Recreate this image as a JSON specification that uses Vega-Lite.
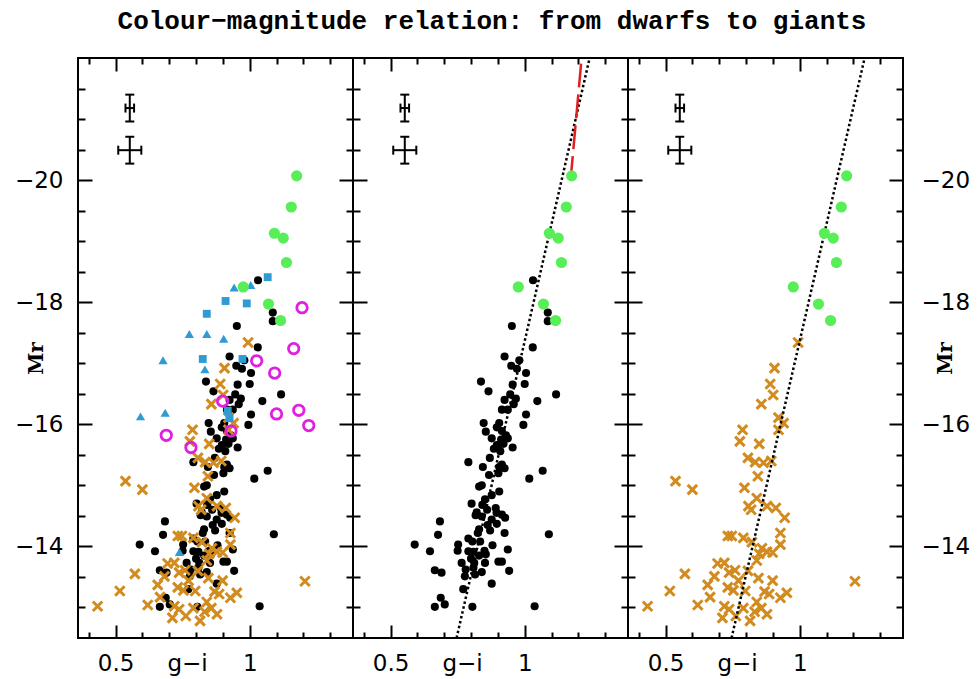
{
  "$schema": "https://vega.github.io/schema/vega-lite/v6.json",
  "background": "white",
  "padding": {"left": 13, "top": 8, "right": 0, "bottom": 0},
  "title": {"text": "Colour−magnitude relation: from dwarfs to giants", "font": "Liberation Mono", "fontSize": 26, "fontWeight": "bold", "color": "black", "anchor": "middle", "offset": 18},
  "spacing": 0,
  "bounds": "flush",
  "datasets": {
    "dwarf": [
      {"gi":1.031,"Mr":-18.36},{"gi":1.086,"Mr":-17.83},{"gi":1.086,"Mr":-17.69},{"gi":0.952,"Mr":-17.61},
      {"gi":1.030,"Mr":-17.26},{"gi":0.925,"Mr":-17.11},{"gi":0.980,"Mr":-17.05},{"gi":0.950,"Mr":-16.96},{"gi":0.971,"Mr":-16.91},{"gi":1.005,"Mr":-16.84},{"gi":0.837,"Mr":-16.70},{"gi":1.000,"Mr":-16.66},{"gi":0.955,"Mr":-16.65},{"gi":0.865,"Mr":-16.54},{"gi":1.117,"Mr":-16.49},{"gi":0.946,"Mr":-16.49},{"gi":0.967,"Mr":-16.42},{"gi":1.047,"Mr":-16.38},{"gi":0.959,"Mr":-16.33},{"gi":0.915,"Mr":-16.24},{"gi":0.937,"Mr":-16.24},{"gi":1.005,"Mr":-16.16},{"gi":0.847,"Mr":-16.02},{"gi":0.995,"Mr":-15.99},{"gi":0.896,"Mr":-15.95},{"gi":0.855,"Mr":-15.88},{"gi":0.915,"Mr":-15.89},{"gi":0.877,"Mr":-15.77},{"gi":0.912,"Mr":-15.75},{"gi":0.937,"Mr":-15.77},{"gi":0.896,"Mr":-15.66},{"gi":0.921,"Mr":-15.68},{"gi":0.955,"Mr":-15.62},{"gi":0.909,"Mr":-15.56},{"gi":0.790,"Mr":-15.38},{"gi":0.844,"Mr":-15.30},{"gi":0.915,"Mr":-15.34},{"gi":0.925,"Mr":-15.28},{"gi":0.902,"Mr":-15.20},{"gi":0.867,"Mr":-15.17},{"gi":1.067,"Mr":-15.24},{"gi":1.017,"Mr":-15.11},{"gi":0.840,"Mr":-15.00},{"gi":0.830,"Mr":-14.98},{"gi":0.877,"Mr":-14.84},{"gi":0.852,"Mr":-14.77},{"gi":0.802,"Mr":-14.70},{"gi":0.842,"Mr":-14.68},{"gi":0.892,"Mr":-14.63},{"gi":0.860,"Mr":-14.60},{"gi":0.684,"Mr":-14.41},{"gi":0.817,"Mr":-14.51},{"gi":0.840,"Mr":-14.49},{"gi":0.915,"Mr":-14.52},{"gi":0.927,"Mr":-14.47},{"gi":0.877,"Mr":-14.44},{"gi":0.896,"Mr":-14.37},{"gi":0.830,"Mr":-14.28},{"gi":0.871,"Mr":-14.26},{"gi":0.925,"Mr":-14.22},{"gi":1.090,"Mr":-14.20},{"gi":0.677,"Mr":-14.19},{"gi":0.825,"Mr":-14.22},{"gi":0.790,"Mr":-14.13},{"gi":0.805,"Mr":-14.08},{"gi":0.834,"Mr":-14.08},{"gi":0.590,"Mr":-14.03},{"gi":0.752,"Mr":-14.03},{"gi":0.880,"Mr":-14.02},{"gi":0.750,"Mr":-13.93},{"gi":0.790,"Mr":-13.92},{"gi":0.809,"Mr":-13.91},{"gi":0.850,"Mr":-13.93},{"gi":0.937,"Mr":-13.95},{"gi":0.647,"Mr":-13.92},{"gi":0.855,"Mr":-13.87},{"gi":0.765,"Mr":-13.73},{"gi":0.812,"Mr":-13.73},{"gi":0.852,"Mr":-13.73},{"gi":0.902,"Mr":-13.75},{"gi":0.915,"Mr":-13.75},{"gi":0.665,"Mr":-13.61},{"gi":0.690,"Mr":-13.57},{"gi":0.777,"Mr":-13.51},{"gi":0.815,"Mr":-13.54},{"gi":0.840,"Mr":-13.58},{"gi":0.942,"Mr":-13.60},{"gi":0.877,"Mr":-13.39},{"gi":0.771,"Mr":-13.30},{"gi":0.687,"Mr":-13.16},{"gi":0.702,"Mr":-13.05},{"gi":0.665,"Mr":-13.01},{"gi":0.805,"Mr":-13.01},{"gi":1.037,"Mr":-13.02},{"gi":0.809,"Mr":-13.65},{"gi":0.821,"Mr":-14.56},
      {"gi":0.905,"Mr":-16.02},{"gi":0.930,"Mr":-15.82},{"gi":0.885,"Mr":-15.60},{"gi":0.925,"Mr":-16.40},{"gi":0.905,"Mr":-14.90},{"gi":0.862,"Mr":-14.35},{"gi":0.800,"Mr":-13.80},{"gi":0.830,"Mr":-13.85},{"gi":0.895,"Mr":-14.55},{"gi":0.870,"Mr":-15.45},{"gi":0.780,"Mr":-13.62},{"gi":0.905,"Mr":-15.30}
    ],
    "cross": [
      {"gi":0.994,"Mr":-17.34},{"gi":0.906,"Mr":-16.92},{"gi":0.890,"Mr":-16.66},{"gi":0.901,"Mr":-16.48},{"gi":0.857,"Mr":-16.33},{"gi":0.921,"Mr":-16.11},{"gi":0.940,"Mr":-16.02},{"gi":0.921,"Mr":-15.91},{"gi":0.787,"Mr":-15.91},{"gi":0.777,"Mr":-15.72},{"gi":0.849,"Mr":-15.68},{"gi":0.807,"Mr":-15.45},{"gi":0.834,"Mr":-15.38},{"gi":0.865,"Mr":-15.37},{"gi":0.894,"Mr":-15.40},{"gi":0.844,"Mr":-15.15},{"gi":0.600,"Mr":-14.93},{"gi":0.794,"Mr":-14.96},{"gi":0.840,"Mr":-14.79},{"gi":0.809,"Mr":-14.66},{"gi":0.819,"Mr":-14.60},{"gi":0.878,"Mr":-14.66},{"gi":0.911,"Mr":-14.63},{"gi":0.944,"Mr":-14.47},{"gi":0.928,"Mr":-14.22},{"gi":0.732,"Mr":-14.17},{"gi":0.747,"Mr":-14.17},{"gi":0.790,"Mr":-14.14},{"gi":0.822,"Mr":-14.07},{"gi":0.928,"Mr":-14.03},{"gi":0.859,"Mr":-13.97},{"gi":0.849,"Mr":-13.88},{"gi":0.878,"Mr":-13.91},{"gi":0.899,"Mr":-13.90},{"gi":0.840,"Mr":-13.77},{"gi":0.694,"Mr":-13.72},{"gi":0.719,"Mr":-13.73},{"gi":0.759,"Mr":-13.61},{"gi":0.807,"Mr":-13.60},{"gi":0.572,"Mr":-13.55},{"gi":0.682,"Mr":-13.51},{"gi":0.737,"Mr":-13.57},{"gi":0.772,"Mr":-13.44},{"gi":0.846,"Mr":-13.48},{"gi":0.899,"Mr":-13.44},{"gi":0.657,"Mr":-13.37},{"gi":0.732,"Mr":-13.33},{"gi":0.753,"Mr":-13.28},{"gi":0.797,"Mr":-13.27},{"gi":0.869,"Mr":-13.26},{"gi":0.886,"Mr":-13.22},{"gi":0.952,"Mr":-13.24},{"gi":0.666,"Mr":-13.17},{"gi":0.928,"Mr":-13.16},{"gi":0.840,"Mr":-13.09},{"gi":0.620,"Mr":-13.04},{"gi":0.719,"Mr":-13.02},{"gi":0.737,"Mr":-12.97},{"gi":0.790,"Mr":-12.99},{"gi":0.857,"Mr":-12.99},{"gi":0.832,"Mr":-12.93},{"gi":0.878,"Mr":-12.89},{"gi":0.712,"Mr":-12.83},{"gi":0.762,"Mr":-12.86},{"gi":0.815,"Mr":-12.78},{"gi":0.537,"Mr":-15.07},{"gi":0.516,"Mr":-13.27},{"gi":0.433,"Mr":-13.02},{"gi":1.206,"Mr":-13.43}
    ],
    "giant": [
      {"gi":1.175,"Mr":-20.07},{"gi":1.155,"Mr":-19.56},{"gi":1.092,"Mr":-19.13},{"gi":1.125,"Mr":-19.05},{"gi":1.137,"Mr":-18.65},{"gi":0.976,"Mr":-18.25},{"gi":1.070,"Mr":-17.97},{"gi":1.115,"Mr":-17.70}
    ],
    "tri": [
      {"gi":0.942,"Mr":-18.24},{"gi":1.004,"Mr":-18.28},{"gi":0.775,"Mr":-17.48},{"gi":0.840,"Mr":-17.48},{"gi":0.903,"Mr":-17.40},{"gi":0.677,"Mr":-17.05},{"gi":0.833,"Mr":-16.90},{"gi":0.593,"Mr":-16.13},{"gi":0.685,"Mr":-16.19},{"gi":0.738,"Mr":-13.91}
    ],
    "sq": [
      {"gi":1.067,"Mr":-18.41},{"gi":0.910,"Mr":-18.02},{"gi":0.989,"Mr":-17.98},{"gi":0.840,"Mr":-17.81},{"gi":0.825,"Mr":-17.07},{"gi":0.973,"Mr":-17.07},{"gi":0.918,"Mr":-16.22},{"gi":0.925,"Mr":-16.10}
    ],
    "ring": [
      {"gi":1.195,"Mr":-17.91},{"gi":1.164,"Mr":-17.24},{"gi":1.026,"Mr":-17.04},{"gi":1.093,"Mr":-16.84},{"gi":0.899,"Mr":-16.38},{"gi":1.100,"Mr":-16.17},{"gi":1.183,"Mr":-16.23},{"gi":1.220,"Mr":-15.98},{"gi":0.689,"Mr":-15.82},{"gi":0.781,"Mr":-15.62},{"gi":0.930,"Mr":-15.89}
    ],
    "ebv": [{"gi":0.553,"lo":-21.40,"hi":-20.96},{"gi":0.553,"lo":-20.71,"hi":-20.27}],
    "ebh": [{"Mr":-21.18,"lo":0.537,"hi":0.569},{"Mr":-20.49,"lo":0.510,"hi":0.596}],
    "capv": [{"gi":0.553,"Mr":-21.40},{"gi":0.553,"Mr":-20.96},{"gi":0.553,"Mr":-20.71},{"gi":0.553,"Mr":-20.27}],
    "caph": [{"gi":0.537,"Mr":-21.18},{"gi":0.569,"Mr":-21.18},{"gi":0.510,"Mr":-20.49},{"gi":0.596,"Mr":-20.49}],
    "fit": [{"gi":0.746,"Mr":-12.5},{"gi":1.242,"Mr":-22}],
    "red": [{"gi":1.171,"Mr":-20.0},{"gi":1.212,"Mr":-22}]
  },
  "hconcat": [
    {
      "width": 275, "height": 580,
      "resolve": {"axis": {"x": "independent", "y": "independent"}},
      "layer": [
        {"data": {"name": "dwarf"}, "mark": {"type": "point", "shape": "circle", "filled": true, "color": "black", "size": 66, "opacity": 1},
         "encoding": {
           "x": {"field": "gi", "type": "quantitative", "scale": {"domain": [0.36, 1.385], "nice": false, "zero": false}, "axis": {"orient": "bottom", "values": [0.5, 1], "format": "~g", "tickSize": -13, "labelPadding": 27, "title": "g−i", "titleX": 109, "titleY": 32, "titleFont": "DejaVu Sans", "titleFontSize": 23, "titleFontWeight": "normal", "titleAlign": "center", "titleBaseline": "alphabetic", "titleAngle": 0}},
           "y": {"field": "Mr", "type": "quantitative", "scale": {"domain": [-22, -12.5], "reverse": true, "nice": false, "zero": false}, "axis": {"orient": "left", "values": [-20, -18, -16, -14], "format": "d", "tickSize": -14, "labelPadding": 29, "title": "Mr", "titleX": -42, "titleY": 300, "titleAngle": -90, "titleAlign": "center", "titleBaseline": "middle"}}
         }},
        {"data": {"name": "cross"}, "mark": {"type": "point", "shape": "M-1,-1L1,1M-1,1L1,-1", "filled": false, "color": "#d18b1e", "size": 90, "strokeWidth": 3, "opacity": 1},
         "encoding": {
           "x": {"field": "gi", "type": "quantitative", "scale": {"domain": [0.36, 1.385], "nice": false, "zero": false}, "axis": {"orient": "bottom", "values": [0.4, 0.6, 0.7, 0.8, 0.9, 1.1, 1.2, 1.3], "tickSize": -6, "labels": false, "title": null}},
           "y": {"field": "Mr", "type": "quantitative", "scale": {"domain": [-22, -12.5], "reverse": true, "nice": false, "zero": false}, "axis": {"orient": "left", "values": [-21.5, -21, -20.5, -19.5, -19, -18.5, -17.5, -17, -16.5, -15.5, -15, -14.5, -13.5, -13], "tickSize": -7, "labels": false, "title": null}}
         }},
        {"data": {"name": "tri"}, "mark": {"type": "point", "shape": "triangle-up", "filled": true, "color": "#2f9bd3", "size": 85, "opacity": 1},
         "encoding": {
           "x": {"field": "gi", "type": "quantitative", "scale": {"domain": [0.36, 1.385], "nice": false, "zero": false}, "axis": {"orient": "top", "values": [0.5, 1], "tickSize": -13, "labels": false, "title": null}},
           "y": {"field": "Mr", "type": "quantitative", "scale": {"domain": [-22, -12.5], "reverse": true, "nice": false, "zero": false}, "axis": {"orient": "right", "values": [-20, -18, -16, -14], "tickSize": -14, "labels": false, "title": null}}
         }},
        {"data": {"name": "sq"}, "mark": {"type": "point", "shape": "square", "filled": true, "color": "#2f9bd3", "size": 62, "opacity": 1},
         "encoding": {
           "x": {"field": "gi", "type": "quantitative", "scale": {"domain": [0.36, 1.385], "nice": false, "zero": false}, "axis": {"orient": "top", "values": [0.4, 0.6, 0.7, 0.8, 0.9, 1.1, 1.2, 1.3], "tickSize": -6, "labels": false, "title": null}},
           "y": {"field": "Mr", "type": "quantitative", "scale": {"domain": [-22, -12.5], "reverse": true, "nice": false, "zero": false}, "axis": {"orient": "right", "values": [-21.5, -21, -20.5, -19.5, -19, -18.5, -17.5, -17, -16.5, -15.5, -15, -14.5, -13.5, -13], "tickSize": -7, "labels": false, "title": null}}
         }},
        {"data": {"name": "ring"}, "mark": {"type": "point", "shape": "circle", "filled": false, "color": "#e020e0", "size": 110, "strokeWidth": 2.8, "opacity": 1},
         "encoding": {
           "x": {"field": "gi", "type": "quantitative", "scale": {"domain": [0.36, 1.385], "nice": false, "zero": false}, "axis": null},
           "y": {"field": "Mr", "type": "quantitative", "scale": {"domain": [-22, -12.5], "reverse": true, "nice": false, "zero": false}, "axis": null}
         }},
        {"data": {"name": "giant"}, "mark": {"type": "point", "shape": "circle", "filled": true, "color": "#58ee58", "size": 125, "opacity": 1},
         "encoding": {
           "x": {"field": "gi", "type": "quantitative", "scale": {"domain": [0.36, 1.385], "nice": false, "zero": false}, "axis": null},
           "y": {"field": "Mr", "type": "quantitative", "scale": {"domain": [-22, -12.5], "reverse": true, "nice": false, "zero": false}, "axis": null}
         }},
        {"data": {"name": "ebv"}, "mark": {"type": "rule", "color": "black", "strokeWidth": 2},
         "encoding": {
           "x": {"field": "gi", "type": "quantitative", "scale": {"domain": [0.36, 1.385], "nice": false, "zero": false}, "axis": null},
           "y": {"field": "lo", "type": "quantitative", "scale": {"domain": [-22, -12.5], "reverse": true, "nice": false, "zero": false}, "axis": null},
           "y2": {"field": "hi"}
         }},
        {"data": {"name": "ebh"}, "mark": {"type": "rule", "color": "black", "strokeWidth": 2},
         "encoding": {
           "x": {"field": "lo", "type": "quantitative", "scale": {"domain": [0.36, 1.385], "nice": false, "zero": false}, "axis": null},
           "x2": {"field": "hi"},
           "y": {"field": "Mr", "type": "quantitative", "scale": {"domain": [-22, -12.5], "reverse": true, "nice": false, "zero": false}, "axis": null}
         }},
        {"data": {"name": "capv"}, "mark": {"type": "tick", "orient": "horizontal", "color": "black", "size": 9, "thickness": 2, "opacity": 1},
         "encoding": {
           "x": {"field": "gi", "type": "quantitative", "scale": {"domain": [0.36, 1.385], "nice": false, "zero": false}, "axis": null},
           "y": {"field": "Mr", "type": "quantitative", "scale": {"domain": [-22, -12.5], "reverse": true, "nice": false, "zero": false}, "axis": null}
         }},
        {"data": {"name": "caph"}, "mark": {"type": "tick", "orient": "vertical", "color": "black", "size": 9, "thickness": 2, "opacity": 1},
         "encoding": {
           "x": {"field": "gi", "type": "quantitative", "scale": {"domain": [0.36, 1.385], "nice": false, "zero": false}, "axis": null},
           "y": {"field": "Mr", "type": "quantitative", "scale": {"domain": [-22, -12.5], "reverse": true, "nice": false, "zero": false}, "axis": null}
         }}
      ]
    },
    {
      "width": 275, "height": 580,
      "resolve": {"axis": {"x": "independent", "y": "independent"}},
      "layer": [
        {"data": {"name": "fit"}, "mark": {"type": "line", "color": "black", "strokeWidth": 2.5, "strokeDash": [2.5, 2.5]},
         "encoding": {
           "x": {"field": "gi", "type": "quantitative", "scale": {"domain": [0.36, 1.385], "nice": false, "zero": false}, "axis": {"orient": "bottom", "values": [0.5, 1], "format": "~g", "tickSize": -13, "labelPadding": 27, "title": "g−i", "titleX": 109, "titleY": 32, "titleFont": "DejaVu Sans", "titleFontSize": 23, "titleFontWeight": "normal", "titleAlign": "center", "titleBaseline": "alphabetic", "titleAngle": 0}},
           "y": {"field": "Mr", "type": "quantitative", "scale": {"domain": [-22, -12.5], "reverse": true, "nice": false, "zero": false}, "axis": {"orient": "left", "values": [-20, -18, -16, -14], "tickSize": -14, "labels": false, "title": null}}
         }},
        {"data": {"name": "red"}, "mark": {"type": "line", "color": "#e02020", "strokeWidth": 2.5, "strokeDash": [24, 7]},
         "encoding": {
           "x": {"field": "gi", "type": "quantitative", "scale": {"domain": [0.36, 1.385], "nice": false, "zero": false}, "axis": {"orient": "bottom", "values": [0.4, 0.6, 0.7, 0.8, 0.9, 1.1, 1.2, 1.3], "tickSize": -6, "labels": false, "title": null}},
           "y": {"field": "Mr", "type": "quantitative", "scale": {"domain": [-22, -12.5], "reverse": true, "nice": false, "zero": false}, "axis": {"orient": "left", "values": [-21.5, -21, -20.5, -19.5, -19, -18.5, -17.5, -17, -16.5, -15.5, -15, -14.5, -13.5, -13], "tickSize": -7, "labels": false, "title": null}}
         }},
        {"data": {"name": "dwarf"}, "mark": {"type": "point", "shape": "circle", "filled": true, "color": "black", "size": 66, "opacity": 1},
         "encoding": {
           "x": {"field": "gi", "type": "quantitative", "scale": {"domain": [0.36, 1.385], "nice": false, "zero": false}, "axis": {"orient": "top", "values": [0.5, 1], "tickSize": -13, "labels": false, "title": null}},
           "y": {"field": "Mr", "type": "quantitative", "scale": {"domain": [-22, -12.5], "reverse": true, "nice": false, "zero": false}, "axis": {"orient": "right", "values": [-20, -18, -16, -14], "tickSize": -14, "labels": false, "title": null}}
         }},
        {"data": {"name": "giant"}, "mark": {"type": "point", "shape": "circle", "filled": true, "color": "#58ee58", "size": 125, "opacity": 1},
         "encoding": {
           "x": {"field": "gi", "type": "quantitative", "scale": {"domain": [0.36, 1.385], "nice": false, "zero": false}, "axis": {"orient": "top", "values": [0.4, 0.6, 0.7, 0.8, 0.9, 1.1, 1.2, 1.3], "tickSize": -6, "labels": false, "title": null}},
           "y": {"field": "Mr", "type": "quantitative", "scale": {"domain": [-22, -12.5], "reverse": true, "nice": false, "zero": false}, "axis": {"orient": "right", "values": [-21.5, -21, -20.5, -19.5, -19, -18.5, -17.5, -17, -16.5, -15.5, -15, -14.5, -13.5, -13], "tickSize": -7, "labels": false, "title": null}}
         }},
        {"data": {"name": "ebv"}, "mark": {"type": "rule", "color": "black", "strokeWidth": 2},
         "encoding": {
           "x": {"field": "gi", "type": "quantitative", "scale": {"domain": [0.36, 1.385], "nice": false, "zero": false}, "axis": null},
           "y": {"field": "lo", "type": "quantitative", "scale": {"domain": [-22, -12.5], "reverse": true, "nice": false, "zero": false}, "axis": null},
           "y2": {"field": "hi"}
         }},
        {"data": {"name": "ebh"}, "mark": {"type": "rule", "color": "black", "strokeWidth": 2},
         "encoding": {
           "x": {"field": "lo", "type": "quantitative", "scale": {"domain": [0.36, 1.385], "nice": false, "zero": false}, "axis": null},
           "x2": {"field": "hi"},
           "y": {"field": "Mr", "type": "quantitative", "scale": {"domain": [-22, -12.5], "reverse": true, "nice": false, "zero": false}, "axis": null}
         }},
        {"data": {"name": "capv"}, "mark": {"type": "tick", "orient": "horizontal", "color": "black", "size": 9, "thickness": 2, "opacity": 1},
         "encoding": {
           "x": {"field": "gi", "type": "quantitative", "scale": {"domain": [0.36, 1.385], "nice": false, "zero": false}, "axis": null},
           "y": {"field": "Mr", "type": "quantitative", "scale": {"domain": [-22, -12.5], "reverse": true, "nice": false, "zero": false}, "axis": null}
         }},
        {"data": {"name": "caph"}, "mark": {"type": "tick", "orient": "vertical", "color": "black", "size": 9, "thickness": 2, "opacity": 1},
         "encoding": {
           "x": {"field": "gi", "type": "quantitative", "scale": {"domain": [0.36, 1.385], "nice": false, "zero": false}, "axis": null},
           "y": {"field": "Mr", "type": "quantitative", "scale": {"domain": [-22, -12.5], "reverse": true, "nice": false, "zero": false}, "axis": null}
         }}
      ]
    },
    {
      "width": 275, "height": 580,
      "resolve": {"axis": {"x": "independent", "y": "independent"}},
      "layer": [
        {"data": {"name": "cross"}, "mark": {"type": "point", "shape": "M-1,-1L1,1M-1,1L1,-1", "filled": false, "color": "#d18b1e", "size": 90, "strokeWidth": 3, "opacity": 1},
         "encoding": {
           "x": {"field": "gi", "type": "quantitative", "scale": {"domain": [0.36, 1.385], "nice": false, "zero": false}, "axis": {"orient": "bottom", "values": [0.5, 1], "format": "~g", "tickSize": -13, "labelPadding": 27, "title": "g−i", "titleX": 109, "titleY": 32, "titleFont": "DejaVu Sans", "titleFontSize": 23, "titleFontWeight": "normal", "titleAlign": "center", "titleBaseline": "alphabetic", "titleAngle": 0}},
           "y": {"field": "Mr", "type": "quantitative", "scale": {"domain": [-22, -12.5], "reverse": true, "nice": false, "zero": false}, "axis": {"orient": "left", "values": [-20, -18, -16, -14], "tickSize": -14, "labels": false, "title": null}}
         }},
        {"data": {"name": "fit"}, "mark": {"type": "line", "color": "black", "strokeWidth": 2.5, "strokeDash": [2.5, 2.5]},
         "encoding": {
           "x": {"field": "gi", "type": "quantitative", "scale": {"domain": [0.36, 1.385], "nice": false, "zero": false}, "axis": {"orient": "bottom", "values": [0.4, 0.6, 0.7, 0.8, 0.9, 1.1, 1.2, 1.3], "tickSize": -6, "labels": false, "title": null}},
           "y": {"field": "Mr", "type": "quantitative", "scale": {"domain": [-22, -12.5], "reverse": true, "nice": false, "zero": false}, "axis": {"orient": "left", "values": [-21.5, -21, -20.5, -19.5, -19, -18.5, -17.5, -17, -16.5, -15.5, -15, -14.5, -13.5, -13], "tickSize": -7, "labels": false, "title": null}}
         }},
        {"data": {"name": "giant"}, "mark": {"type": "point", "shape": "circle", "filled": true, "color": "#58ee58", "size": 125, "opacity": 1},
         "encoding": {
           "x": {"field": "gi", "type": "quantitative", "scale": {"domain": [0.36, 1.385], "nice": false, "zero": false}, "axis": {"orient": "top", "values": [0.5, 1], "tickSize": -13, "labels": false, "title": null}},
           "y": {"field": "Mr", "type": "quantitative", "scale": {"domain": [-22, -12.5], "reverse": true, "nice": false, "zero": false}, "axis": {"orient": "right", "values": [-20, -18, -16, -14], "format": "d", "tickSize": -14, "labelPadding": 32, "labelAlign": "left", "title": "Mr", "titleX": 42, "titleY": 300, "titleAngle": -90, "titleAlign": "center", "titleBaseline": "middle"}}
         }},
        {"data": {"name": "ebv"}, "mark": {"type": "rule", "color": "black", "strokeWidth": 2},
         "encoding": {
           "x": {"field": "gi", "type": "quantitative", "scale": {"domain": [0.36, 1.385], "nice": false, "zero": false}, "axis": {"orient": "top", "values": [0.4, 0.6, 0.7, 0.8, 0.9, 1.1, 1.2, 1.3], "tickSize": -6, "labels": false, "title": null}},
           "y": {"field": "lo", "type": "quantitative", "scale": {"domain": [-22, -12.5], "reverse": true, "nice": false, "zero": false}, "axis": {"orient": "right", "values": [-21.5, -21, -20.5, -19.5, -19, -18.5, -17.5, -17, -16.5, -15.5, -15, -14.5, -13.5, -13], "tickSize": -7, "labels": false, "title": null}},
           "y2": {"field": "hi"}
         }},
        {"data": {"name": "ebh"}, "mark": {"type": "rule", "color": "black", "strokeWidth": 2},
         "encoding": {
           "x": {"field": "lo", "type": "quantitative", "scale": {"domain": [0.36, 1.385], "nice": false, "zero": false}, "axis": null},
           "x2": {"field": "hi"},
           "y": {"field": "Mr", "type": "quantitative", "scale": {"domain": [-22, -12.5], "reverse": true, "nice": false, "zero": false}, "axis": null}
         }},
        {"data": {"name": "capv"}, "mark": {"type": "tick", "orient": "horizontal", "color": "black", "size": 9, "thickness": 2, "opacity": 1},
         "encoding": {
           "x": {"field": "gi", "type": "quantitative", "scale": {"domain": [0.36, 1.385], "nice": false, "zero": false}, "axis": null},
           "y": {"field": "Mr", "type": "quantitative", "scale": {"domain": [-22, -12.5], "reverse": true, "nice": false, "zero": false}, "axis": null}
         }},
        {"data": {"name": "caph"}, "mark": {"type": "tick", "orient": "vertical", "color": "black", "size": 9, "thickness": 2, "opacity": 1},
         "encoding": {
           "x": {"field": "gi", "type": "quantitative", "scale": {"domain": [0.36, 1.385], "nice": false, "zero": false}, "axis": null},
           "y": {"field": "Mr", "type": "quantitative", "scale": {"domain": [-22, -12.5], "reverse": true, "nice": false, "zero": false}, "axis": null}
         }}
      ]
    }
  ],
  "config": {
    "view": {"stroke": "black", "strokeWidth": 2},
    "axis": {"domain": false, "grid": false, "tickColor": "black", "tickWidth": 2, "labelFont": "DejaVu Sans", "labelFontSize": 23, "labelColor": "black", "titleFont": "DejaVu Serif", "titleFontWeight": "bold", "titleFontSize": 20, "titleColor": "black", "labelFlush": false, "labelOverlap": false}
  }
}
